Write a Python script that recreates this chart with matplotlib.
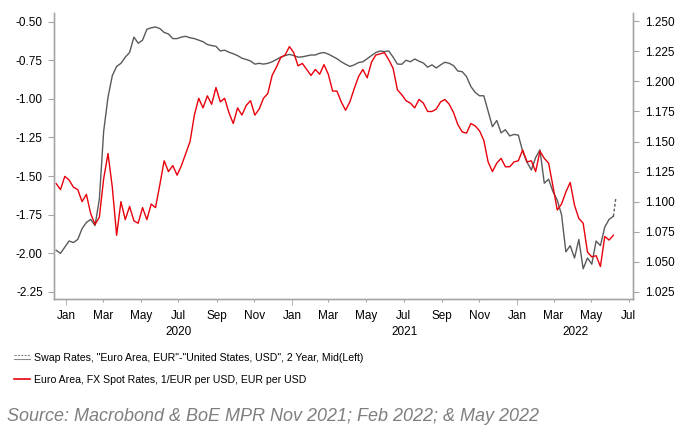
import pandas as pd
import matplotlib
matplotlib.use("Agg")
import matplotlib.pyplot as plt
import matplotlib.dates as mdates
from matplotlib import font_manager
from matplotlib.lines import Line2D
from matplotlib.legend_handler import HandlerBase

# weekly readings, starting Mon 16 Dec 2019
swap = [-1.98, -2.00, -1.96, -1.92, -1.93, -1.91, -1.84, -1.80, -1.78, -1.82,
        -1.65, -1.21, -0.99, -0.85, -0.79, -0.77, -0.73, -0.70, -0.60, -0.64,
        -0.62, -0.55, -0.54, -0.535, -0.545, -0.57, -0.58, -0.61, -0.61, -0.60,
        -0.595, -0.605, -0.61, -0.62, -0.63, -0.648, -0.655, -0.66, -0.69, -0.685,
        -0.698, -0.708, -0.72, -0.737, -0.745, -0.755, -0.775, -0.77, -0.775, -0.77,
        -0.76, -0.745, -0.73, -0.72, -0.712, -0.72, -0.73, -0.728, -0.722, -0.716,
        -0.716, -0.705, -0.70, -0.71, -0.725, -0.74, -0.76, -0.776, -0.79, -0.78,
        -0.765, -0.76, -0.74, -0.72, -0.70, -0.69, -0.694, -0.69, -0.73, -0.775,
        -0.776, -0.75, -0.76, -0.742, -0.756, -0.768, -0.795, -0.78, -0.80, -0.78,
        -0.763, -0.77, -0.785, -0.82, -0.824, -0.856, -0.92, -0.958, -0.98, -0.98,
        -1.08, -1.18, -1.14, -1.22, -1.20, -1.24, -1.23, -1.235, -1.34, -1.41,
        -1.46, -1.38, -1.33, -1.546, -1.52, -1.60, -1.655, -1.75, -1.99, -1.95,
        -2.03, -1.91, -2.10, -2.03, -2.07, -1.92, -1.95, -1.83, -1.78, -1.76]
fx = [1.115, 1.110, 1.121, 1.118, 1.112, 1.110, 1.100, 1.106, 1.090, 1.081,
      1.087, 1.119, 1.140, 1.112, 1.072, 1.100, 1.085, 1.096, 1.084, 1.082,
      1.095, 1.085, 1.098, 1.095, 1.114, 1.134, 1.125, 1.130, 1.122, 1.130,
      1.140, 1.150, 1.172, 1.186, 1.178, 1.188, 1.181, 1.195, 1.183, 1.186,
      1.174, 1.165, 1.178, 1.172, 1.180, 1.184, 1.172, 1.177, 1.186, 1.190,
      1.205, 1.212, 1.220, 1.222, 1.229, 1.224, 1.213, 1.215, 1.210, 1.205,
      1.210, 1.206, 1.214, 1.206, 1.192, 1.192, 1.183, 1.176, 1.183, 1.194,
      1.204, 1.210, 1.203, 1.216, 1.222, 1.223, 1.224, 1.218, 1.211, 1.193,
      1.189, 1.184, 1.182, 1.178, 1.185, 1.182, 1.175, 1.175, 1.177, 1.183,
      1.185, 1.181, 1.174, 1.164, 1.158, 1.157, 1.165, 1.163, 1.159, 1.151,
      1.133, 1.125, 1.132, 1.136, 1.129, 1.129, 1.133, 1.134, 1.143, 1.133,
      1.134, 1.125, 1.142, 1.136, 1.132, 1.113, 1.093, 1.098, 1.108, 1.116,
      1.097, 1.086, 1.082, 1.058, 1.054, 1.055, 1.046, 1.071, 1.068, 1.072]
dates = pd.date_range("2019-12-16", periods=len(swap), freq="7D")

# latest swap readings drawn dashed
tail_dates = pd.to_datetime(["2022-06-06", "2022-06-10"])
swap_tail = [-1.76, -1.64]

swap_label = 'Swap Rates, "Euro Area, EUR"-"United States, USD", 2 Year, Mid(Left)'
fx_label = "Euro Area, FX Spot Rates, 1/EUR per USD, EUR per USD"
source = "Source: Macrobond & BoE MPR Nov 2021; Feb 2022; & May 2022"

gray = "#5a5a5a"
red = "#e8000b"
spine_c = "#a6a6a6"

names = {f.name for f in font_manager.fontManager.ttflist}
narrow = "Liberation Sans Narrow" if "Liberation Sans Narrow" in names else "Liberation Sans"
leg_size = 8.5 if narrow != "Liberation Sans" else 7.6
src_size = 13.5 if narrow != "Liberation Sans" else 13.0
plt.rcParams["font.family"] = ["Liberation Sans", "DejaVu Sans"]

fig = plt.figure(figsize=(6.83, 4.32), dpi=100)
ax = fig.add_axes([0.0795, 0.308, 0.8475, 0.662])
ax2 = ax.twinx()

ax.plot(dates, swap, color=gray, lw=1.0)
ax.plot(tail_dates, swap_tail, color=gray, lw=1.0, ls=(0, (2, 1.5)))
ax2.plot(dates, fx, color=red, lw=1.0)

ax.set_xlim(pd.Timestamp("2019-12-13"), pd.Timestamp("2022-07-08"))
ax.set_ylim(-2.295, -0.444)
ax2.set_ylim(1.019, 1.257)
ax.set_yticks([-0.5, -0.75, -1.0, -1.25, -1.5, -1.75, -2.0, -2.25])
ax.set_yticklabels(["%.2f" % v for v in ax.get_yticks()])
ax2.set_yticks([1.25, 1.225, 1.2, 1.175, 1.15, 1.125, 1.1, 1.075, 1.05, 1.025])
ax2.set_yticklabels(["%.3f" % v for v in ax2.get_yticks()])

ax.xaxis.set_major_locator(mdates.MonthLocator(bymonth=[3, 5, 7, 9, 11]))
ax.xaxis.set_major_formatter(mdates.DateFormatter("%b"))
ax.xaxis.set_minor_locator(mdates.MonthLocator(bymonth=[1]))
ax.xaxis.set_minor_formatter(mdates.DateFormatter("%b"))

for a in (ax, ax2):
    a.spines["top"].set_visible(False)
    for s in ("left", "right", "bottom"):
        a.spines[s].set_color(spine_c)
        a.spines[s].set_linewidth(1.0)
ax.tick_params(axis="x", which="major", length=2.2, pad=6.0, color=spine_c, labelsize=8.5)
ax.tick_params(axis="x", which="minor", length=4.5, pad=3.7, color=spine_c, labelsize=8.5)
ax.tick_params(axis="y", length=4.3, pad=4.0, color=spine_c, labelsize=8.5)
ax2.tick_params(axis="y", length=4.3, pad=4.0, color=spine_c, labelsize=8.5)

# year labels under the month labels
for yr, pos in [("2020", pd.Timestamp("2020-07-01")),
                ("2021", pd.Timestamp("2021-07-02")),
                ("2022", pd.Timestamp("2022-04-05"))]:
    ax.text(mdates.date2num(pos), -0.114, yr, transform=ax.get_xaxis_transform(),
            ha="center", va="center", fontsize=8.5)


class TwoLines(HandlerBase):
    def create_artists(self, legend, orig_handle, xdescent, ydescent, width, height, fontsize, trans):
        x0, x1 = -xdescent, width - xdescent
        top = Line2D([x0, x1], [height * 0.75] * 2, color="#8a8a8a", lw=0.8, ls=(0, (2, 1)), transform=trans)
        bot = Line2D([x0, x1], [height * 0.3] * 2, color="#8a8a8a", lw=0.8, transform=trans)
        return [top, bot]


h1 = Line2D([], [], color=gray)
h2 = Line2D([], [], color=red, lw=1.2)
fig.legend([h1, h2], [swap_label, fx_label], loc="upper left", bbox_to_anchor=(0.006, 0.205),
           frameon=False, handlelength=1.6, handletextpad=0.3, labelspacing=1.12,
           prop={"family": narrow, "size": leg_size}, handler_map={h1: TwoLines()})

fig.text(0.01, 0.037, source, fontsize=src_size, style="italic", color="#7f7f7f",
         family=narrow, ha="left", va="center")

fig.savefig("out.png", dpi=100)
